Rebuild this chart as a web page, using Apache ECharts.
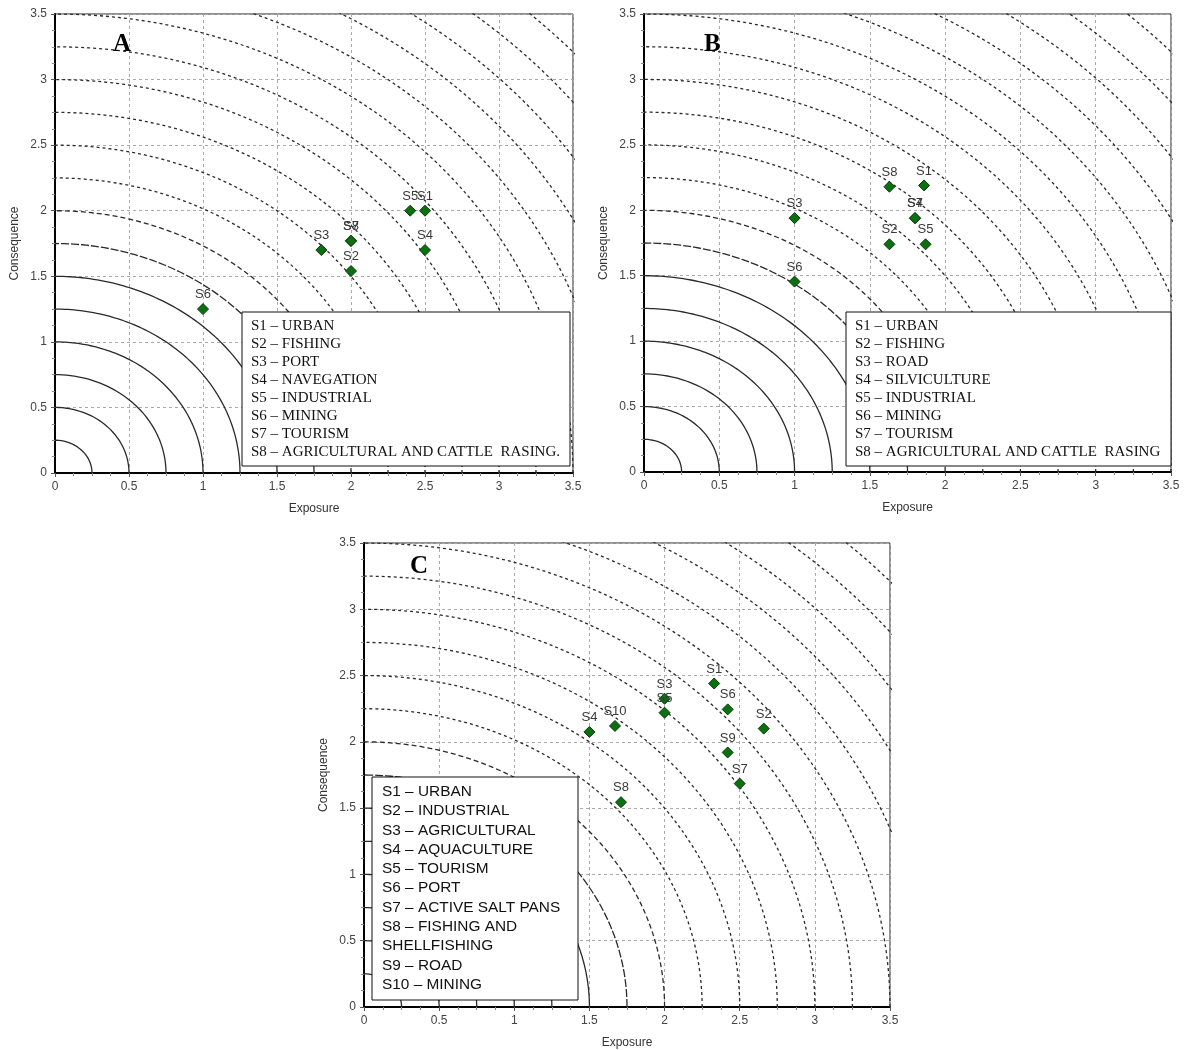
<!DOCTYPE html>
<html>
<head>
<meta charset="utf-8">
<script src="https://cdn.jsdelivr.net/npm/echarts@6/dist/echarts.min.js"></script>
<style>
html,body{margin:0;padding:0;background:#fff;}
#main{width:1191px;height:1050px;}
</style>
</head>
<body>
<div id="main"></div>
<script>
// radii of the iso-risk arcs (exposure^2 + consequence^2 = r^2)
var arcRadii = [0.25,0.5,0.75,1,1.25,1.5,1.75,2,2.25,2.5,2.75,3,3.25,3.5,3.75,4,4.25,4.5,4.75];

// panel A
var namesA = ['S1','S2','S3','S4','S5','S6','S7','S8'];
var expA   = [2.5, 2.0, 1.8, 2.5, 2.4, 1.0, 2.0, 2.0];
var conA   = [2.0, 1.54, 1.70, 1.70, 2.0, 1.25, 1.77, 1.77];
var legendA = ['S1 – URBAN','S2 – FISHING','S3 – PORT','S4 – NAVEGATION','S5 – INDUSTRIAL',
               'S6 – MINING','S7 – TOURISM','S8 – AGRICULTURAL AND CATTLE  RASING.'];

// panel B
var namesB = ['S1','S2','S3','S4','S5','S6','S7','S8'];
var expB   = [1.86, 1.63, 1.0, 1.8, 1.87, 1.0, 1.8, 1.63];
var conB   = [2.19, 1.74, 1.94, 1.94, 1.74, 1.455, 1.94, 2.18];
var legendB = ['S1 – URBAN','S2 – FISHING','S3 – ROAD','S4 – SILVICULTURE','S5 – INDUSTRIAL',
               'S6 – MINING','S7 – TOURISM','S8 – AGRICULTURAL AND CATTLE  RASING'];

// panel C
var namesC = ['S1','S2','S3','S4','S5','S6','S7','S8','S9','S10'];
var expC   = [2.33, 2.66, 2.0, 1.5, 2.0, 2.42, 2.5, 1.71, 2.42, 1.67];
var conC   = [2.44, 2.10, 2.325, 2.075, 2.22, 2.245, 1.685, 1.545, 1.92, 2.12];
var legendC = ['S1 – URBAN','S2 – INDUSTRIAL','S3 – AGRICULTURAL','S4 – AQUACULTURE','S5 – TOURISM',
               'S6 – PORT','S7 – ACTIVE SALT PANS','S8 – FISHING AND','SHELLFISHING','S9 – ROAD','S10 – MINING'];

var panels = [
  {left:55,  top:14,  width:518, height:459, names:namesA, x:expA, y:conA, legend:legendA,
   box:[242,312,328,154], serif:true, letter:'A', lx:113, ly:32},
  {left:644, top:14,  width:527, height:458, names:namesB, x:expB, y:conB, legend:legendB,
   box:[846,312,325,154], serif:true, letter:'B', lx:704, ly:32},
  {left:364, top:543, width:526, height:464, names:namesC, x:expC, y:conC, legend:legendC,
   box:[372,777,206,223], serif:false, letter:'C', lx:410, ly:554}
];

function arcStyle(r){
  if (r <= 1.5) return 'solid';
  if (r <= 1.75) return [8,2];
  if (r <= 2) return [5,3];
  return [3,3];
}

function arcPoints(r){
  var pts = [];
  for (var i = 0; i <= 90; i++) {
    var t = i / 90 * Math.PI / 2;
    pts.push([r * Math.cos(t), r * Math.sin(t)]);
  }
  return pts;
}

var grids = [], xAxes = [], yAxes = [], series = [], graphics = [];

panels.forEach(function(p, k){
  grids.push({left:p.left, top:p.top, width:p.width, height:p.height,
              show:true, borderColor:'#222', borderWidth:1, backgroundColor:'#fff'});
  var axisCommon = {
    gridIndex:k, type:'value', min:0, max:3.5, interval:0.5,
    nameLocation:'middle',
    nameTextStyle:{fontFamily:'Liberation Sans', fontSize:12, color:'#333'},
    axisLine:{show:true, lineStyle:{color:'#000', width:2}},
    axisTick:{show:true, length:4, lineStyle:{color:'#555'}},
    minorTick:{show:true, splitNumber:4, length:3, lineStyle:{color:'#888'}},
    axisLabel:{fontFamily:'Liberation Sans', fontSize:12, color:'#444', margin:8},
    splitLine:{show:true, lineStyle:{color:'#aaa', type:[3,3], width:1}}
  };
  xAxes.push(Object.assign({}, axisCommon, {name:'Exposure', nameGap:30}));
  yAxes.push(Object.assign({}, axisCommon, {name:'Consequence', nameGap:34}));

  arcRadii.forEach(function(r){
    series.push({
      type:'line', xAxisIndex:k, yAxisIndex:k, data:arcPoints(r),
      showSymbol:false, silent:true, smooth:false, clip:true,
      lineStyle:{color:'#2a2a2a', width:1.3, type:arcStyle(r)}, z:2
    });
  });

  series.push({
    type:'scatter', xAxisIndex:k, yAxisIndex:k, z:5,
    symbol:'diamond', symbolSize:11,
    itemStyle:{color:'#0a7010', borderColor:'#0a3a0a', borderWidth:1, opacity:1},
    label:{show:true, position:'top', distance:2, formatter:'{b}',
           fontFamily:'Liberation Sans', fontSize:13, color:'#3a3a3a'},
    data:p.names.map(function(n, i){ return {name:n, value:[p.x[i], p.y[i]]}; })
  });

  graphics.push({
    type:'rect', z:10,
    shape:{x:p.box[0], y:p.box[1], width:p.box[2], height:p.box[3]},
    style:{fill:'#fff', stroke:'#111', lineWidth:1}
  });
  graphics.push({
    type:'text', z:11,
    x:p.box[0] + (p.serif ? 9 : 10), y:p.box[1] + (p.serif ? 5 : 5),
    style:{
      text:p.legend.join('\n'),
      fontFamily:p.serif ? 'Liberation Serif' : 'Liberation Sans',
      fontSize:p.serif ? 15 : 15.4,
      lineHeight:p.serif ? 18 : 19.3,
      fill:'#111'
    }
  });
  graphics.push({
    type:'text', z:11, x:p.lx, y:p.ly,
    style:{text:p.letter, fontFamily:'Liberation Serif', fontWeight:'bold', fontSize:25, fill:'#000'}
  });
});

var myChart = echarts.init(document.getElementById('main'));
myChart.setOption({
  animation:false,
  backgroundColor:'#fff',
  grid:grids,
  xAxis:xAxes,
  yAxis:yAxes,
  series:series,
  graphic:graphics
});
</script>
</body>
</html>
